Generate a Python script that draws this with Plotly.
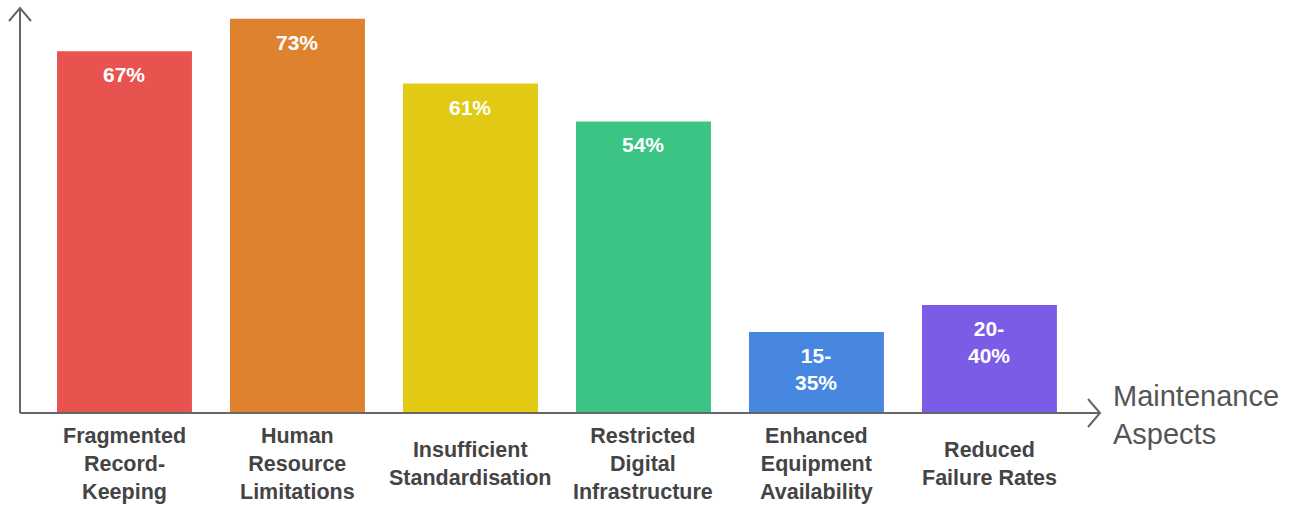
import plotly.graph_objects as go

categories = ["Fragmented<br>Record-<br>Keeping", "Human<br>Resource<br>Limitations",
              "Insufficient<br>Standardisation", "Restricted<br>Digital<br>Infrastructure",
              "Enhanced<br>Equipment<br>Availability", "Reduced<br>Failure Rates"]
values = [67, 73, 61, 54, 15, 20]
value_labels = ["67%", "73%", "61%", "54%", "15-<br>35%", "20-<br>40%"]
colors = ["#E8534F", "#DF822F", "#E1C914", "#3BC483", "#4887E0", "#7A5CE6"]
axis_title = "Maintenance<br>Aspects"

FONT = "Liberation Sans, Arial, sans-serif"
AXC = "#666666"
x_idx = list(range(len(categories)))

fig = go.Figure(go.Bar(x=x_idx, y=values, marker=dict(color=colors, line=dict(width=0)),
                       hoverinfo="skip"))

ann = []
for i, (v, t) in enumerate(zip(values, value_labels)):
    ann.append(dict(x=i, y=v, xref="x", yref="y", text=f"<b>{t}</b>", showarrow=False,
                    yanchor="top", yshift=-10, font=dict(family=FONT, size=21, color="white")))
for i, c in enumerate(categories):
    ann.append(dict(x=i, y=0, xref="x", yref="paper", text=f"<b>{c}</b>", showarrow=False,
                    yanchor="middle", yshift=-51, font=dict(family=FONT, size=21.5, color="#444444")))
ann.append(dict(x=1, y=0, xref="paper", yref="paper", text=axis_title, showarrow=False,
                xanchor="left", yanchor="middle", xshift=11, yshift=-2, align="left",
                font=dict(family=FONT, size=29, color="#555555")))

shapes = [
    dict(type="line", xref="paper", yref="paper", x0=0, x1=0, y0=0, y1=1,
         line=dict(color=AXC, width=2), layer="above"),
    dict(type="line", xref="paper", yref="paper", x0=0, x1=1, y0=0, y1=0,
         line=dict(color=AXC, width=2), layer="above"),
    dict(type="path", xref="paper", yref="paper", xsizemode="pixel", ysizemode="pixel",
         xanchor=0, yanchor=1, path="M -11,-13 L 0,0 L 11,-13",
         line=dict(color=AXC, width=2), layer="above"),
    dict(type="path", xref="paper", yref="paper", xsizemode="pixel", ysizemode="pixel",
         xanchor=1, yanchor=0, path="M -12,14 L 0,0 L -12,-14",
         line=dict(color=AXC, width=2), layer="above"),
]

fig.update_layout(
    width=1295, height=508,
    margin=dict(l=20, r=195, t=8, b=95),
    paper_bgcolor="white", plot_bgcolor="white",
    bargap=0.22, showlegend=False,
    xaxis=dict(range=[-0.604, 5.639], showticklabels=False, showgrid=False,
               zeroline=False, showline=False, ticks=""),
    yaxis=dict(range=[0, 75], showticklabels=False, showgrid=False,
               zeroline=False, showline=False, ticks=""),
    annotations=ann, shapes=shapes,
)

fig.write_html("out.html")
